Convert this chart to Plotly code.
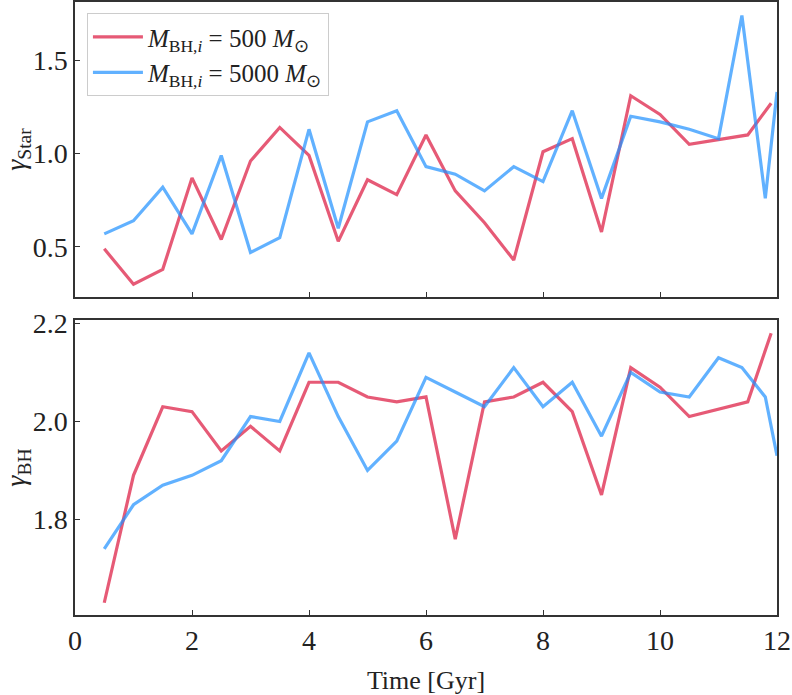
import plotly.graph_objects as go

# Time sampling (Gyr) for each run
time_500 = [0.5, 1.0, 1.5, 2.0, 2.5, 3.0, 3.5, 4.0, 4.5, 5.0, 5.5, 6.0, 6.5, 7.0,
            7.5, 8.0, 8.5, 9.0, 9.5, 10.0, 10.5, 11.0, 11.5, 11.9]
time_5000 = [0.5, 1.0, 1.5, 2.0, 2.5, 3.0, 3.5, 4.0, 4.5, 5.0, 5.5, 6.0, 6.5, 7.0,
             7.5, 8.0, 8.5, 9.0, 9.5, 10.0, 10.5, 11.0, 11.4, 11.8, 12.0]

# Stellar density slope
gamma_star_500 = [0.49, 0.30, 0.38, 0.87, 0.54, 0.96, 1.14, 0.99, 0.53, 0.86, 0.78, 1.10,
                  0.80, 0.63, 0.43, 1.01, 1.08, 0.58, 1.31, 1.21, 1.05, 1.075, 1.10, 1.27]
gamma_star_5000 = [0.57, 0.64, 0.82, 0.57, 0.99, 0.47, 0.55, 1.13, 0.60, 1.17, 1.23, 0.93,
                   0.89, 0.80, 0.93, 0.85, 1.23, 0.76, 1.20, 1.17, 1.13, 1.08, 1.74, 0.76, 1.33]

# Black-hole density slope
gamma_bh_500 = [1.63, 1.89, 2.03, 2.02, 1.94, 1.99, 1.94, 2.08, 2.08, 2.05, 2.04, 2.05,
                1.76, 2.04, 2.05, 2.08, 2.02, 1.85, 2.11, 2.07, 2.01, 2.025, 2.04, 2.18]
gamma_bh_5000 = [1.74, 1.83, 1.87, 1.89, 1.92, 2.01, 2.00, 2.14, 2.01, 1.90, 1.96, 2.09,
                 2.06, 2.03, 2.11, 2.03, 2.08, 1.97, 2.10, 2.06, 2.05, 2.13, 2.11, 2.05, 1.93]

labels = ["<i>M</i><sub>BH,<i>i</i></sub> = 500 <i>M</i><sub>⊙</sub>",
          "<i>M</i><sub>BH,<i>i</i></sub> = 5000 <i>M</i><sub>⊙</sub>"]
colors = ["rgba(220,20,60,0.7)", "rgba(30,144,255,0.7)"]

FONT = "Liberation Serif"
AXCOL = "#333333"
TXT = "#222222"

fig = go.Figure()
fig.add_trace(go.Scatter(x=time_500, y=gamma_star_500, mode="lines", name=labels[0],
                         line=dict(color=colors[0], width=3.2), xaxis="x", yaxis="y"))
fig.add_trace(go.Scatter(x=time_5000, y=gamma_star_5000, mode="lines", name=labels[1],
                         line=dict(color=colors[1], width=3.2), xaxis="x", yaxis="y"))
fig.add_trace(go.Scatter(x=time_500, y=gamma_bh_500, mode="lines", showlegend=False,
                         line=dict(color=colors[0], width=3.2), xaxis="x2", yaxis="y2"))
fig.add_trace(go.Scatter(x=time_5000, y=gamma_bh_5000, mode="lines", showlegend=False,
                         line=dict(color=colors[1], width=3.2), xaxis="x2", yaxis="y2"))

common_axis = dict(showline=True, linecolor=AXCOL, linewidth=1.5, mirror=True,
                   ticks="inside", ticklen=5, tickwidth=1.2, tickcolor=AXCOL,
                   showgrid=False, zeroline=False, automargin=False,
                   tickfont=dict(family=FONT, size=28, color=TXT))

fig.update_layout(
    width=792, height=695,
    margin=dict(l=75, r=15, t=2, b=80, autoexpand=False),
    plot_bgcolor="white", paper_bgcolor="white",
    font=dict(family=FONT, color=TXT),
    xaxis=dict(common_axis, domain=[0, 1], anchor="y", range=[0, 12], dtick=2,
               showticklabels=False, matches="x2"),
    yaxis=dict(common_axis, domain=[0.5188, 1], anchor="x", range=[0.232, 1.812],
               tickvals=[0.5, 1.0, 1.5], ticktext=["0.5", "1.0", "1.5"],
               title=dict(text="<i>γ</i><sub>Star</sub>", font=dict(family=FONT, size=28, color=TXT),
                          standoff=9)),
    xaxis2=dict(common_axis, domain=[0, 1], anchor="y2", range=[0, 12], dtick=2,
                title=dict(text="Time [Gyr]", font=dict(family=FONT, size=26, color=TXT),
                           standoff=28)),
    yaxis2=dict(common_axis, domain=[0, 0.4812], anchor="x2", range=[1.605, 2.207],
                tickvals=[1.8, 2.0, 2.2], ticktext=["1.8", "2.0", "2.2"],
                title=dict(text="<i>γ</i><sub>BH</sub>", font=dict(family=FONT, size=28, color=TXT),
                           standoff=9)),
    legend=dict(x=0.017, y=0.982, xanchor="left", yanchor="top",
                bgcolor="rgba(255,255,255,0.9)", bordercolor="#cccccc", borderwidth=1,
                font=dict(family=FONT, size=25, color=TXT),
                itemwidth=50, tracegroupgap=0),
    showlegend=True,
)

fig.write_html("out.html")
